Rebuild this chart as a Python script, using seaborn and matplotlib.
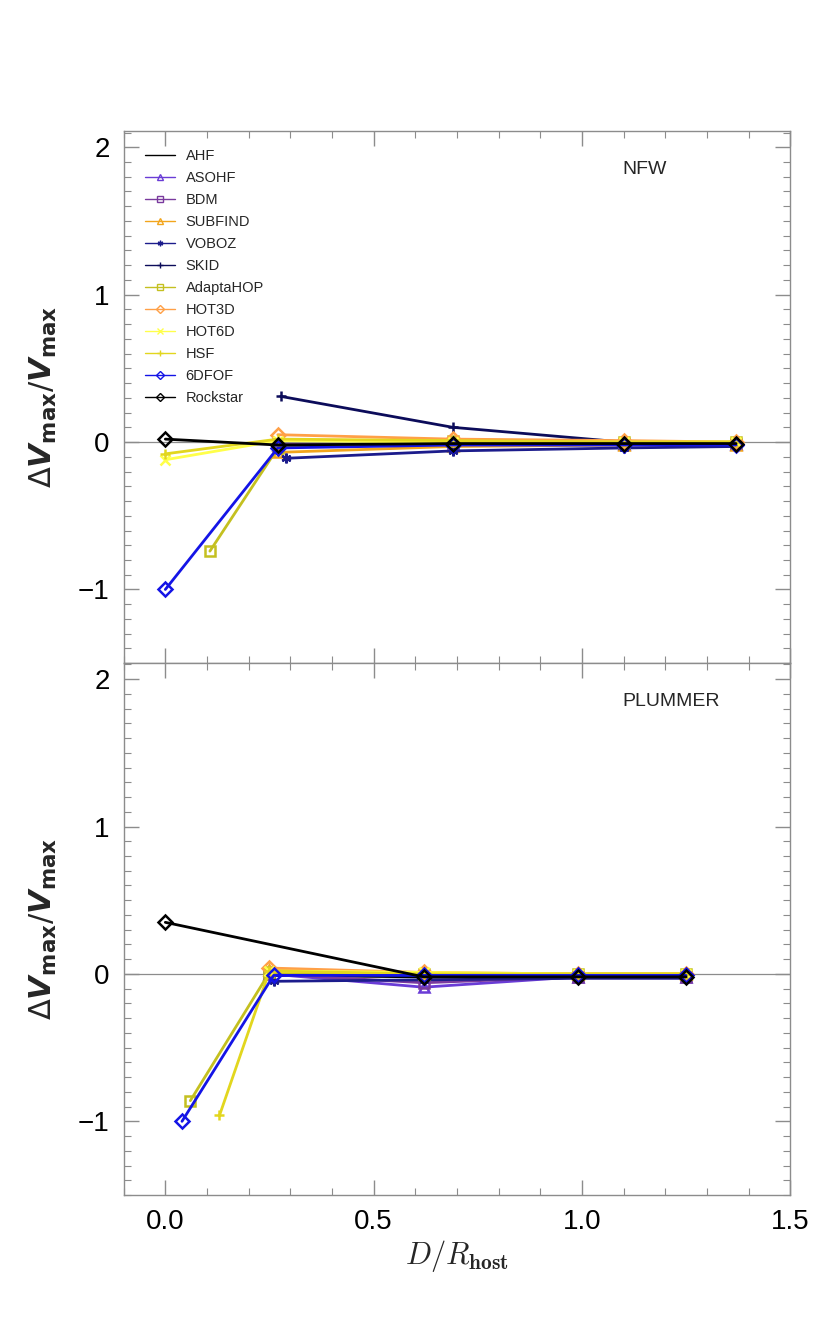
import numpy as np
import pandas as pd
import matplotlib
matplotlib.use("Agg")
import matplotlib.pyplot as plt
from matplotlib.lines import Line2D
import seaborn as sns

# finders, colours and marker styles
finders = ["AHF", "ASOHF", "BDM", "SUBFIND", "VOBOZ", "SKID", "AdaptaHOP",
           "HOT3D", "HOT6D", "HSF", "6DFOF", "Rockstar"]
colors = ["#000000", "#6a3cd6", "#7a3a9e", "#f2a51c", "#1c1c8c", "#0c0c5a",
          "#c4c020", "#ffa047", "#ffff4a", "#e2d61e", "#1414e6", "#000000"]
markers = ["", "^", "s", "^", (6, 2, 0), "+", "s", "D", "x", "+", "D", "D"]

# NFW panel: (x, y) per finder
nfw_x = {
    "AHF": [0.27, 0.69, 1.10, 1.37],
    "ASOHF": [0.27, 0.69, 1.10, 1.37],
    "BDM": [0.27, 0.69, 1.10, 1.37],
    "SUBFIND": [0.27, 0.69, 1.10, 1.37],
    "VOBOZ": [0.29, 0.69, 1.10, 1.37],
    "SKID": [0.277, 0.69, 1.10, 1.37],
    "AdaptaHOP": [0.107, 0.27, 0.69, 1.10, 1.37],
    "HOT3D": [0.27, 0.69, 1.10, 1.37],
    "HOT6D": [0.0, 0.27, 0.69, 1.10, 1.37],
    "HSF": [0.0, 0.27, 0.69, 1.10, 1.37],
    "6DFOF": [0.0, 0.27, 0.69, 1.10, 1.37],
    "Rockstar": [0.0, 0.27, 0.69, 1.10, 1.37],
}
nfw_y = {
    "AHF": [-0.02, -0.01, -0.01, -0.01],
    "ASOHF": [-0.02, -0.02, -0.01, -0.01],
    "BDM": [-0.01, -0.01, -0.01, -0.01],
    "SUBFIND": [-0.07, -0.03, -0.02, -0.02],
    "VOBOZ": [-0.11, -0.06, -0.04, -0.03],
    "SKID": [0.31, 0.10, 0.0, -0.01],
    "AdaptaHOP": [-0.74, -0.04, 0.01, 0.0, 0.0],
    "HOT3D": [0.05, 0.02, 0.01, 0.0],
    "HOT6D": [-0.12, 0.01, 0.0, 0.0, 0.0],
    "HSF": [-0.08, 0.02, 0.01, 0.0, 0.0],
    "6DFOF": [-1.0, -0.04, -0.02, -0.02, -0.02],
    "Rockstar": [0.02, -0.02, -0.01, -0.01, -0.01],
}

# PLUMMER panel
plum_x = {
    "AHF": [0.25, 0.62, 0.99, 1.25],
    "ASOHF": [0.25, 0.62, 0.99, 1.25],
    "BDM": [0.25, 0.62, 0.99, 1.25],
    "SUBFIND": [0.25, 0.62, 0.99, 1.25],
    "VOBOZ": [0.26, 0.62, 0.99, 1.25],
    "AdaptaHOP": [0.06, 0.25, 0.62, 0.99, 1.25],
    "HOT3D": [0.25, 0.62, 0.99, 1.25],
    "HOT6D": [0.25, 0.62, 0.99, 1.25],
    "HSF": [0.13, 0.25, 0.62, 0.99, 1.25],
    "6DFOF": [0.04, 0.26, 0.62, 0.99, 1.25],
    "Rockstar": [0.0, 0.62, 0.99, 1.25],
}
plum_y = {
    "AHF": [-0.01, -0.02, -0.02, -0.02],
    "ASOHF": [0.0, -0.09, -0.02, -0.02],
    "BDM": [0.0, -0.06, -0.02, -0.02],
    "SUBFIND": [0.03, 0.0, 0.0, 0.0],
    "VOBOZ": [-0.05, -0.04, -0.03, -0.03],
    "AdaptaHOP": [-0.86, 0.01, 0.0, 0.0, 0.0],
    "HOT3D": [0.04, 0.01, 0.0, 0.0],
    "HOT6D": [0.02, 0.01, 0.0, 0.0],
    "HSF": [-0.96, 0.02, 0.0, 0.0, 0.0],
    "6DFOF": [-1.0, -0.01, -0.01, -0.01, -0.01],
    "Rockstar": [0.35, -0.02, -0.02, -0.02],
}

panel_names = ["NFW", "PLUMMER"]

sns.set_theme(style="ticks")
plt.rcParams["font.family"] = ["Liberation Sans", "DejaVu Sans"]

fig = plt.figure(figsize=(8.3, 13.29), dpi=100)
ax_top = fig.add_axes([0.149, 0.501, 0.803, 0.4004])
ax_bot = fig.add_axes([0.149, 0.1008, 0.803, 0.4004])

grey = "#8c8c8c"


def draw_panel(ax, xs, ys, label):
    ax.axhline(0, color=grey, lw=0.9, zorder=1)
    for name, c, m in zip(finders, colors, markers):
        if name not in xs:
            continue
        df = pd.DataFrame({"x": xs[name], "y": ys[name]})
        sns.lineplot(data=df, x="x", y="y", ax=ax, color=c, lw=2.0,
                     marker=m if m else None, markersize=7,
                     markerfacecolor="none", markeredgecolor=c,
                     markeredgewidth=1.8, sort=False, zorder=3)
    ax.set_xlim(-0.1, 1.5)
    ax.set_ylim(-1.5, 2.11)
    ax.set_xticks([0.0, 0.5, 1.0, 1.5])
    ax.set_xticks(np.arange(-0.1, 1.51, 0.1), minor=True)
    ax.set_yticks([-1, 0, 1, 2])
    ax.set_yticks(np.arange(-1.5, 2.11, 0.1), minor=True)
    ax.set_yticklabels(["\u22121", "0", "1", "2"])
    ax.tick_params(which="both", direction="in", top=True, right=True,
                   color=grey, labelsize=20, labelcolor="black")
    ax.tick_params(which="major", length=11, width=1, pad=10)
    ax.tick_params(which="minor", length=5, width=0.8)
    for sp in ax.spines.values():
        sp.set_color(grey)
        sp.set_linewidth(1)
    ax.set_ylabel(r"$\Delta \boldsymbol{V}_{\mathbf{max}}/\boldsymbol{V}_{\mathbf{max}}$",
                  fontsize=22, labelpad=14)
    ax.text(0.748, 0.927, label, transform=ax.transAxes, fontsize=14,
            va="center", ha="left")
    ax.set_xlabel("")


draw_panel(ax_top, nfw_x, nfw_y, panel_names[0])
draw_panel(ax_bot, plum_x, plum_y, panel_names[1])
ax_top.set_xticklabels([])
ax_bot.set_xticklabels(["0.0", "0.5", "1.0", "1.5"])
ax_bot.set_xlabel(r"$D/R_{\mathbf{host}}$", fontsize=22, labelpad=2,
                  math_fontfamily="cm")

handles = []
for name, c, m in zip(finders, colors, markers):
    handles.append(Line2D([0], [0], color=c, lw=1.0,
                          marker=m if m else None, markersize=4,
                          markerfacecolor="none", markeredgecolor=c,
                          markeredgewidth=1.0))
ax_top.legend(handles, finders, loc="upper left", bbox_to_anchor=(0.023, 0.977),
              borderaxespad=0, frameon=False, fontsize=10.5, handlelength=2.1,
              labelspacing=0.55, handletextpad=0.7)

plt.savefig("out.png", dpi=100)
